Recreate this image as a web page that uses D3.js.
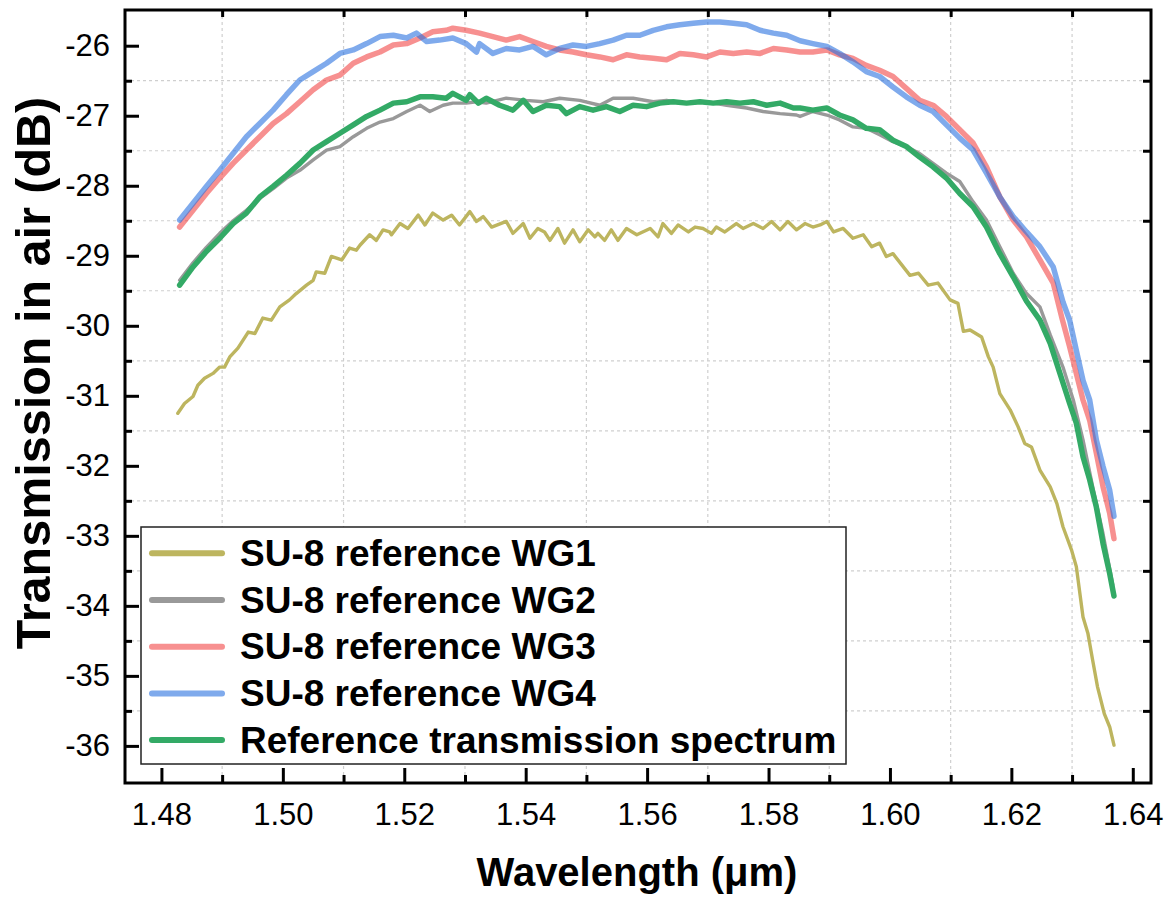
<!DOCTYPE html>
<html>
<head>
<meta charset="utf-8">
<script src="https://cdnjs.cloudflare.com/ajax/libs/d3/7.8.5/d3.min.js"></script>
<style>
  html, body { margin: 0; padding: 0; background: #fff; }
  svg { display: block; font-family: Arial, "Liberation Sans", sans-serif; }
</style>
</head>
<body>
<svg id="chart" width="1172" height="899"></svg>
<script>
// Wavelength (um) / transmission (dB) pairs
var wg1 = [[1.4827,-31.25],[1.4838,-31.11],[1.4852,-31.01],[1.4860,-30.85],[1.4871,-30.75],[1.4885,-30.68],[1.4896,-30.59],[1.4904,-30.59],[1.4913,-30.44],[1.4926,-30.32],[1.4943,-30.09],[1.4954,-30.11],[1.4967,-29.89],[1.4981,-29.92],[1.4995,-29.73],[1.5011,-29.63],[1.5022,-29.54],[1.5039,-29.42],[1.5050,-29.35],[1.5055,-29.23],[1.5069,-29.25],[1.5080,-29.01],[1.5097,-29.06],[1.5110,-28.89],[1.5121,-28.92],[1.5127,-28.85],[1.5143,-28.70],[1.5154,-28.78],[1.5165,-28.63],[1.5176,-28.66],[1.5179,-28.70],[1.5193,-28.54],[1.5206,-28.61],[1.5223,-28.42],[1.5234,-28.56],[1.5247,-28.39],[1.5264,-28.49],[1.5278,-28.42],[1.5291,-28.56],[1.5308,-28.37],[1.5319,-28.51],[1.5330,-28.44],[1.5344,-28.59],[1.5368,-28.51],[1.5379,-28.68],[1.5396,-28.54],[1.5407,-28.75],[1.5420,-28.61],[1.5431,-28.66],[1.5440,-28.78],[1.5453,-28.61],[1.5464,-28.82],[1.5478,-28.63],[1.5489,-28.80],[1.5503,-28.63],[1.5514,-28.73],[1.5519,-28.68],[1.5530,-28.78],[1.5541,-28.63],[1.5552,-28.78],[1.5566,-28.61],[1.5583,-28.70],[1.5605,-28.61],[1.5618,-28.73],[1.5626,-28.54],[1.5640,-28.68],[1.5651,-28.56],[1.5668,-28.66],[1.5679,-28.59],[1.5692,-28.61],[1.5706,-28.68],[1.5714,-28.59],[1.5728,-28.66],[1.5747,-28.54],[1.5758,-28.61],[1.5775,-28.54],[1.5791,-28.61],[1.5805,-28.51],[1.5819,-28.63],[1.5832,-28.51],[1.5846,-28.63],[1.5860,-28.54],[1.5873,-28.59],[1.5885,-28.56],[1.5896,-28.51],[1.5907,-28.66],[1.5923,-28.61],[1.5939,-28.75],[1.5956,-28.70],[1.5970,-28.87],[1.5983,-28.82],[1.5994,-29.01],[1.6005,-28.97],[1.6033,-29.28],[1.6047,-29.25],[1.6063,-29.42],[1.6079,-29.39],[1.6099,-29.63],[1.6112,-29.68],[1.6121,-30.08],[1.6132,-30.06],[1.6151,-30.16],[1.6162,-30.44],[1.6170,-30.59],[1.6181,-30.97],[1.6198,-31.20],[1.6211,-31.44],[1.6222,-31.68],[1.6233,-31.73],[1.6247,-32.06],[1.6264,-32.30],[1.6275,-32.54],[1.6285,-32.87],[1.6299,-33.20],[1.6307,-33.44],[1.6318,-34.16],[1.6326,-34.39],[1.6334,-34.78],[1.6342,-35.16],[1.6353,-35.54],[1.6362,-35.73],[1.6369,-35.99]];

var wg2 = [[1.4830,-29.35],[1.4852,-29.10],[1.4874,-28.88],[1.4896,-28.68],[1.4918,-28.50],[1.4940,-28.35],[1.4962,-28.18],[1.4984,-28.04],[1.5006,-27.89],[1.5028,-27.78],[1.5050,-27.63],[1.5072,-27.49],[1.5094,-27.44],[1.5116,-27.30],[1.5138,-27.18],[1.5160,-27.09],[1.5182,-27.04],[1.5204,-26.94],[1.5226,-26.85],[1.5242,-26.94],[1.5264,-26.85],[1.5280,-26.82],[1.5302,-26.82],[1.5319,-26.80],[1.5335,-26.82],[1.5368,-26.75],[1.5401,-26.78],[1.5429,-26.80],[1.5456,-26.75],[1.5489,-26.78],[1.5522,-26.85],[1.5544,-26.75],[1.5577,-26.75],[1.5610,-26.80],[1.5632,-26.78],[1.5665,-26.82],[1.5698,-26.80],[1.5731,-26.85],[1.5764,-26.89],[1.5791,-26.94],[1.5819,-26.97],[1.5846,-26.99],[1.5852,-27.01],[1.5873,-26.94],[1.5896,-26.99],[1.5917,-27.06],[1.5939,-27.16],[1.5961,-27.18],[1.5983,-27.27],[1.6005,-27.37],[1.6027,-27.44],[1.6049,-27.54],[1.6071,-27.68],[1.6093,-27.82],[1.6115,-27.94],[1.6137,-28.23],[1.6159,-28.49],[1.6181,-28.87],[1.6203,-29.25],[1.6225,-29.54],[1.6247,-29.73],[1.6264,-30.13],[1.6285,-30.59],[1.6302,-31.06],[1.6318,-31.63],[1.6334,-32.30],[1.6351,-32.97],[1.6367,-33.70]];

var wg3 = [[1.4830,-28.59],[1.4852,-28.35],[1.4874,-28.11],[1.4896,-27.89],[1.4918,-27.68],[1.4940,-27.49],[1.4962,-27.30],[1.4984,-27.11],[1.5006,-26.97],[1.5028,-26.80],[1.5050,-26.63],[1.5072,-26.49],[1.5094,-26.42],[1.5116,-26.25],[1.5138,-26.16],[1.5160,-26.09],[1.5182,-25.99],[1.5204,-25.97],[1.5226,-25.89],[1.5247,-25.80],[1.5269,-25.78],[1.5280,-25.75],[1.5302,-25.78],[1.5324,-25.82],[1.5346,-25.87],[1.5368,-25.92],[1.5390,-25.87],[1.5412,-25.94],[1.5434,-26.01],[1.5456,-26.06],[1.5478,-26.09],[1.5500,-26.13],[1.5522,-26.16],[1.5544,-26.20],[1.5566,-26.13],[1.5588,-26.16],[1.5610,-26.18],[1.5632,-26.20],[1.5654,-26.11],[1.5676,-26.13],[1.5698,-26.16],[1.5720,-26.09],[1.5742,-26.11],[1.5764,-26.09],[1.5786,-26.11],[1.5808,-26.04],[1.5830,-26.06],[1.5852,-26.09],[1.5873,-26.09],[1.5896,-26.06],[1.5917,-26.13],[1.5939,-26.18],[1.5961,-26.28],[1.5983,-26.35],[1.6005,-26.44],[1.6027,-26.61],[1.6049,-26.78],[1.6071,-26.85],[1.6093,-27.01],[1.6115,-27.20],[1.6137,-27.39],[1.6159,-27.73],[1.6181,-28.16],[1.6203,-28.49],[1.6225,-28.73],[1.6247,-29.06],[1.6269,-29.39],[1.6283,-29.88],[1.6296,-30.30],[1.6307,-30.68],[1.6318,-31.06],[1.6329,-31.35],[1.6340,-31.82],[1.6351,-32.30],[1.6362,-32.68],[1.6369,-33.04]];

var wg4 = [[1.4830,-28.49],[1.4852,-28.25],[1.4874,-28.01],[1.4896,-27.78],[1.4918,-27.54],[1.4940,-27.30],[1.4962,-27.11],[1.4984,-26.92],[1.5006,-26.70],[1.5028,-26.49],[1.5050,-26.37],[1.5072,-26.25],[1.5094,-26.11],[1.5116,-26.06],[1.5138,-25.97],[1.5160,-25.87],[1.5182,-25.85],[1.5204,-25.89],[1.5220,-25.82],[1.5237,-25.94],[1.5258,-25.92],[1.5280,-25.89],[1.5302,-25.97],[1.5319,-26.09],[1.5324,-25.97],[1.5346,-26.11],[1.5368,-26.04],[1.5390,-26.06],[1.5412,-26.01],[1.5434,-26.13],[1.5456,-26.04],[1.5478,-25.99],[1.5500,-26.01],[1.5522,-25.97],[1.5544,-25.92],[1.5566,-25.85],[1.5588,-25.85],[1.5610,-25.78],[1.5632,-25.73],[1.5654,-25.70],[1.5676,-25.68],[1.5698,-25.66],[1.5720,-25.66],[1.5742,-25.68],[1.5764,-25.70],[1.5786,-25.78],[1.5808,-25.82],[1.5830,-25.85],[1.5852,-25.93],[1.5873,-25.97],[1.5896,-26.01],[1.5917,-26.11],[1.5939,-26.23],[1.5961,-26.37],[1.5983,-26.44],[1.6005,-26.59],[1.6027,-26.73],[1.6049,-26.85],[1.6071,-26.94],[1.6093,-27.13],[1.6115,-27.32],[1.6137,-27.49],[1.6159,-27.82],[1.6181,-28.16],[1.6203,-28.44],[1.6225,-28.66],[1.6247,-28.87],[1.6269,-29.16],[1.6285,-29.66],[1.6296,-29.92],[1.6307,-30.35],[1.6318,-30.78],[1.6329,-31.06],[1.6340,-31.63],[1.6351,-32.01],[1.6362,-32.35],[1.6369,-32.72]];

var refSpec = [[1.4830,-29.42],[1.4852,-29.16],[1.4874,-28.94],[1.4896,-28.75],[1.4918,-28.54],[1.4940,-28.39],[1.4962,-28.16],[1.4984,-28.01],[1.5006,-27.85],[1.5028,-27.68],[1.5050,-27.49],[1.5072,-27.37],[1.5094,-27.25],[1.5116,-27.13],[1.5138,-27.01],[1.5160,-26.92],[1.5182,-26.82],[1.5204,-26.80],[1.5226,-26.73],[1.5247,-26.73],[1.5269,-26.75],[1.5280,-26.68],[1.5302,-26.78],[1.5308,-26.70],[1.5322,-26.82],[1.5335,-26.75],[1.5357,-26.85],[1.5379,-26.92],[1.5396,-26.78],[1.5412,-26.94],[1.5434,-26.85],[1.5456,-26.87],[1.5467,-26.97],[1.5489,-26.87],[1.5511,-26.92],[1.5533,-26.87],[1.5555,-26.94],[1.5577,-26.85],[1.5599,-26.87],[1.5621,-26.82],[1.5643,-26.80],[1.5665,-26.82],[1.5687,-26.80],[1.5709,-26.82],[1.5731,-26.80],[1.5753,-26.82],[1.5775,-26.80],[1.5797,-26.85],[1.5819,-26.82],[1.5841,-26.89],[1.5852,-26.89],[1.5873,-26.92],[1.5896,-26.89],[1.5917,-26.99],[1.5939,-27.06],[1.5961,-27.18],[1.5983,-27.20],[1.6005,-27.35],[1.6027,-27.44],[1.6049,-27.59],[1.6071,-27.73],[1.6093,-27.89],[1.6115,-28.11],[1.6137,-28.30],[1.6159,-28.59],[1.6181,-28.97],[1.6203,-29.30],[1.6225,-29.65],[1.6247,-29.92],[1.6264,-30.25],[1.6280,-30.68],[1.6296,-31.11],[1.6307,-31.39],[1.6318,-31.87],[1.6329,-32.20],[1.6340,-32.59],[1.6351,-33.11],[1.6362,-33.54],[1.6369,-33.86]];

var seriesNames = ['SU-8 reference WG1', 'SU-8 reference WG2', 'SU-8 reference WG3',
    'SU-8 reference WG4', 'Reference transmission spectrum'];

var xMajorTicks = [1.48, 1.50, 1.52, 1.54, 1.56, 1.58, 1.60, 1.62, 1.64];
var xMinorTicks = [1.49, 1.51, 1.53, 1.55, 1.57, 1.59, 1.61, 1.63];
var yMajorTicks = [-26, -27, -28, -29, -30, -31, -32, -33, -34, -35, -36];
var yMinorTicks = [-26.5, -27.5, -28.5, -29.5, -30.5, -31.5, -32.5, -33.5, -34.5, -35.5];

var svg = d3.select('#chart');

// Plot frame (window.top is reserved, so use other names)
var plotLeft = 125, plotRight = 1151, plotTop = 10, plotBottom = 783;

var x = d3.scaleLinear().domain([1.474, 1.643]).range([plotLeft, plotRight]);
var y = d3.scaleLinear().domain([-36.53, -25.49]).range([plotBottom, plotTop]);

// Dotted grid on the minor positions
var grid = svg.append('g')
    .attr('stroke', '#cfcfcf')
    .attr('stroke-width', 1.2)
    .attr('stroke-dasharray', '3,3');

grid.selectAll('line.gx')
    .data(xMinorTicks)
    .enter()
    .append('line')
    .attr('x1', function (d) { return x(d); })
    .attr('x2', function (d) { return x(d); })
    .attr('y1', plotTop)
    .attr('y2', plotBottom);

grid.selectAll('line.gy')
    .data(yMinorTicks)
    .enter()
    .append('line')
    .attr('y1', function (d) { return y(d); })
    .attr('y2', function (d) { return y(d); })
    .attr('x1', plotLeft)
    .attr('x2', plotRight);

// Curves
var line = d3.line()
    .x(function (d) { return x(d[0]); })
    .y(function (d) { return y(d[1]); });

var styles = [
    { data: wg1, color: '#bdb55f', width: 3.4, opacity: 1 },
    { data: wg2, color: '#999999', width: 3.4, opacity: 1 },
    { data: wg3, color: '#f03434', width: 5.5, opacity: 0.55 },
    { data: wg4, color: '#2a72e0', width: 5.5, opacity: 0.6 },
    { data: refSpec, color: '#33aa66', width: 5.5, opacity: 1 }
];

var plot = svg.append('g');

styles.forEach(function (s) {
    plot.append('path')
        .datum(s.data)
        .attr('fill', 'none')
        .attr('stroke', s.color)
        .attr('stroke-width', s.width)
        .attr('stroke-opacity', s.opacity)
        .attr('stroke-linejoin', 'round')
        .attr('stroke-linecap', 'round')
        .attr('d', line);
});

// Axes with inward ticks
var xAxis = svg.append('g')
    .attr('transform', 'translate(0,' + plotBottom + ')')
    .call(d3.axisBottom(x).tickValues(xMajorTicks).tickFormat(d3.format('.2f'))
        .tickSizeInner(-15).tickSizeOuter(0).tickPadding(20));

svg.append('g')
    .attr('transform', 'translate(0,' + plotBottom + ')')
    .call(d3.axisBottom(x).tickValues(xMinorTicks).tickFormat('')
        .tickSizeInner(-8).tickSizeOuter(0));

svg.append('g')
    .attr('transform', 'translate(0,' + plotTop + ')')
    .call(d3.axisTop(x).tickValues(xMinorTicks).tickFormat('')
        .tickSizeInner(-7).tickSizeOuter(0));

// Plain hyphen for negative labels, as in the original
var yAxis = svg.append('g')
    .attr('transform', 'translate(' + plotLeft + ',0)')
    .call(d3.axisLeft(y).tickValues(yMajorTicks)
        .tickFormat(function (d) { return String(d); })
        .tickSizeInner(-14).tickSizeOuter(0).tickPadding(15));

svg.append('g')
    .attr('transform', 'translate(' + plotLeft + ',0)')
    .call(d3.axisLeft(y).tickValues(yMinorTicks).tickFormat('')
        .tickSizeInner(-7).tickSizeOuter(0));

svg.append('g')
    .attr('transform', 'translate(' + plotRight + ',0)')
    .call(d3.axisRight(y).tickValues(yMinorTicks).tickFormat('')
        .tickSizeInner(-8).tickSizeOuter(0));

svg.selectAll('.domain').remove();
svg.selectAll('.tick line')
    .attr('stroke', '#000')
    .attr('stroke-width', 3);

svg.selectAll('.tick text')
    .attr('font-size', 31)
    .attr('fill', '#000')
    .attr('font-family', 'Arial, "Liberation Sans", sans-serif');

// Frame
svg.append('rect')
    .attr('x', plotLeft)
    .attr('y', plotTop)
    .attr('width', plotRight - plotLeft)
    .attr('height', plotBottom - plotTop)
    .attr('fill', 'none')
    .attr('stroke', '#000')
    .attr('stroke-width', 3);

// Legend
var legend = svg.append('g');

legend.append('rect')
    .attr('x', 141)
    .attr('y', 527)
    .attr('width', 705)
    .attr('height', 237)
    .attr('fill', '#fff')
    .attr('stroke', '#222')
    .attr('stroke-width', 1.5);

var rows = legend.selectAll('g.row')
    .data(styles)
    .enter()
    .append('g')
    .attr('transform', function (d, i) {
        return 'translate(0,' + (553.3 + i * 46.7) + ')';
    });

rows.append('line')
    .attr('x1', 152)
    .attr('x2', 222)
    .attr('stroke', function (d) { return d.color; })
    .attr('stroke-opacity', function (d) { return d.opacity; })
    .attr('stroke-width', 6)
    .attr('stroke-linecap', 'round');

rows.append('text')
    .attr('x', 240)
    .attr('y', 12.5)
    .attr('font-size', 37)
    .attr('font-weight', 'bold')
    .text(function (d, i) { return seriesNames[i]; });

// Axis titles
svg.append('text')
    .attr('x', 637)
    .attr('y', 886)
    .attr('text-anchor', 'middle')
    .attr('font-size', 40)
    .attr('font-weight', 'bold')
    .text('Wavelength (μm)');

svg.append('text')
    .attr('transform', 'translate(50,373) rotate(-90)')
    .attr('text-anchor', 'middle')
    .attr('font-size', 48.5)
    .attr('font-weight', 'bold')
    .text('Transmission in air (dB)');
</script>
</body>
</html>
